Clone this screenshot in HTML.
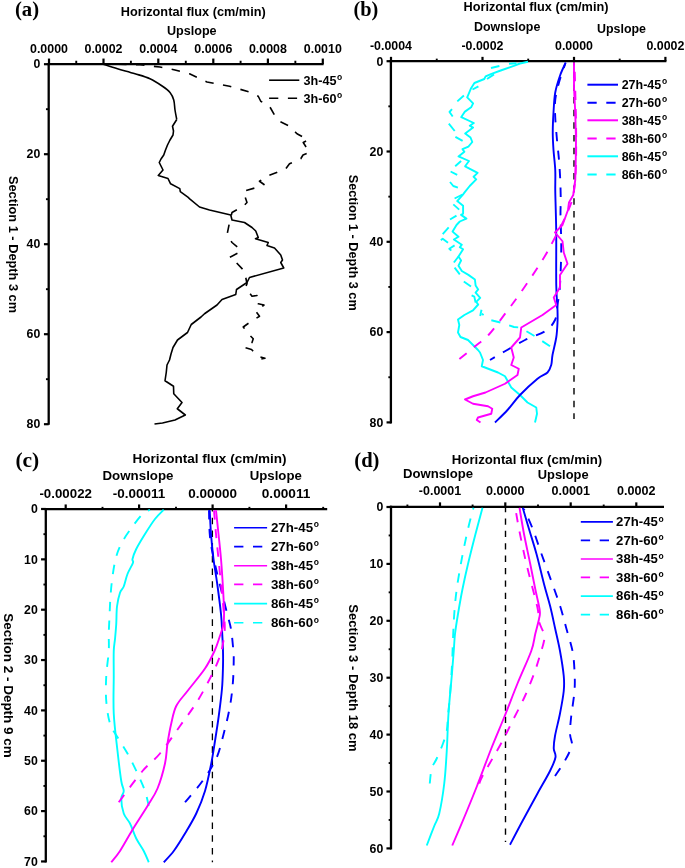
<!DOCTYPE html>
<html><head><meta charset="utf-8"><title>Horizontal flux</title>
<style>
html,body{margin:0;padding:0;background:#fff;}
body{width:685px;height:868px;overflow:hidden;font-family:"Liberation Sans", sans-serif;}
svg{display:block;}
text{fill:#000;}
</style></head><body>
<svg width="685" height="868" viewBox="0 0 685 868">
<defs><filter id="gs" x="0" y="0" width="685" height="868" filterUnits="userSpaceOnUse" color-interpolation-filters="sRGB"><feOffset dx="0" dy="0"/></filter></defs>
<rect width="685" height="868" fill="#fff"/>
<line x1="47.550000000000004" y1="64.1" x2="323.6" y2="64.1" stroke="#000" stroke-width="2.3"/>
<line x1="48.7" y1="62.949999999999996" x2="48.7" y2="424.8" stroke="#000" stroke-width="2.3"/>
<line x1="49" y1="58.55" x2="49" y2="64.1" stroke="#000" stroke-width="2.2"/>
<line x1="103.5" y1="58.55" x2="103.5" y2="64.1" stroke="#000" stroke-width="2.2"/>
<line x1="158.3" y1="58.55" x2="158.3" y2="64.1" stroke="#000" stroke-width="2.2"/>
<line x1="213.3" y1="58.55" x2="213.3" y2="64.1" stroke="#000" stroke-width="2.2"/>
<line x1="267.9" y1="58.55" x2="267.9" y2="64.1" stroke="#000" stroke-width="2.2"/>
<line x1="322.8" y1="58.55" x2="322.8" y2="64.1" stroke="#000" stroke-width="2.2"/>
<line x1="76.25" y1="60.74999999999999" x2="76.25" y2="64.1" stroke="#000" stroke-width="1.9"/>
<line x1="130.9" y1="60.74999999999999" x2="130.9" y2="64.1" stroke="#000" stroke-width="1.9"/>
<line x1="185.8" y1="60.74999999999999" x2="185.8" y2="64.1" stroke="#000" stroke-width="1.9"/>
<line x1="240.6" y1="60.74999999999999" x2="240.6" y2="64.1" stroke="#000" stroke-width="1.9"/>
<line x1="295.35" y1="60.74999999999999" x2="295.35" y2="64.1" stroke="#000" stroke-width="1.9"/>
<line x1="43.95" y1="64.2" x2="48.7" y2="64.2" stroke="#000" stroke-width="2.2"/>
<line x1="43.95" y1="154.2" x2="48.7" y2="154.2" stroke="#000" stroke-width="2.2"/>
<line x1="43.95" y1="244.2" x2="48.7" y2="244.2" stroke="#000" stroke-width="2.2"/>
<line x1="43.95" y1="334.2" x2="48.7" y2="334.2" stroke="#000" stroke-width="2.2"/>
<line x1="43.95" y1="424.2" x2="48.7" y2="424.2" stroke="#000" stroke-width="2.2"/>
<line x1="45.95" y1="109.2" x2="48.7" y2="109.2" stroke="#000" stroke-width="1.9"/>
<line x1="45.95" y1="199.2" x2="48.7" y2="199.2" stroke="#000" stroke-width="1.9"/>
<line x1="45.95" y1="289.2" x2="48.7" y2="289.2" stroke="#000" stroke-width="1.9"/>
<line x1="45.95" y1="379.2" x2="48.7" y2="379.2" stroke="#000" stroke-width="1.9"/>
<path d="M103.25,64.25 C105.62,65.00 112.21,67.17 117.50,68.75 C122.79,70.33 129.58,72.08 135.00,73.75 C140.42,75.42 145.42,76.67 150.00,78.75 C154.58,80.83 159.17,83.96 162.50,86.25 C165.83,88.54 168.12,90.21 170.00,92.50 C171.88,94.79 172.92,97.08 173.75,100.00 C174.58,102.92 174.50,106.75 175.00,110.00 C175.50,113.25 176.46,117.92 176.75,119.50" fill="none" stroke="#000" stroke-width="1.6" stroke-linejoin="round" stroke-linecap="butt"/>
<path d="M176.75,119.50 L172.50,126.25 L173.50,131.00 L173.00,135.00 L170.00,140.00 L167.50,145.00 L165.50,150.00 L163.75,155.00 L161.00,159.00 L159.25,162.50 L161.00,166.00 L163.00,170.00 L158.25,175.50 L168.00,178.50 L170.60,183.80 L179.80,188.60 L180.30,191.70 L188.20,197.40 L190.00,199.20 L199.50,207.00 L209.50,210.00 L230.75,215.00 L232.00,220.00 L244.50,222.50 L252.00,227.50 L255.75,231.00 L258.25,237.50 L255.50,238.70 L268.25,242.50 L267.00,245.50 L274.50,248.00 L280.75,255.00 L282.50,260.00 L280.75,262.50 L283.75,268.00 L249.50,277.50 L247.00,282.50 L236.50,289.50 L235.75,294.50 L222.00,299.50 L217.00,305.00 L204.50,313.75 L201.00,317.00 L191.25,324.50 L187.50,332.50 L177.50,340.00 L173.00,347.50 L171.00,354.00 L169.50,360.00 L167.00,365.00 L166.25,372.50 L165.00,380.75 L173.50,386.25 L173.75,393.75 L182.00,402.50 L177.30,408.75 L185.30,415.00 L175.00,420.00 L162.50,423.00 L154.50,424.00" fill="none" stroke="#000" stroke-width="1.6" stroke-linejoin="round" stroke-linecap="butt"/>
<path d="M118.00,64.30 L140.00,64.80 L160.00,67.00 L175.00,70.00 L189.50,73.75 L207.00,82.00 L229.50,86.25 L249.50,92.00 L258.25,96.25 L260.75,101.25 L269.50,106.25 L274.50,115.00 L279.50,121.25 L289.50,126.25 L297.00,133.75 L308.25,140.00 L303.25,142.50 L309.50,152.50 L303.00,155.00 L300.75,158.75 L289.50,163.75 L285.75,168.75 L267.00,176.25 L259.50,181.25 L264.00,184.50 L260.80,186.30 L243.25,191.25 L247.00,202.50 L243.25,206.25 L232.00,212.50 L229.50,222.50 L227.00,235.00 L232.00,242.50 L240.75,250.00 L239.00,252.50 L229.50,257.50 L235.75,262.00 L244.50,271.25 L247.00,283.75 L245.50,287.50 L252.00,296.25 L257.00,295.50 L254.50,298.80 L258.25,303.75 L264.00,305.00 L255.75,311.25 L259.50,316.25 L249.50,322.50 L243.25,327.00 L248.25,333.75 L253.25,338.75 L252.00,342.50 L244.50,347.50 L251.50,349.50 L258.25,356.25 L265.00,358.25 L252.00,360.75" fill="none" stroke="#000" stroke-width="1.6" stroke-linejoin="round" stroke-linecap="butt" stroke-dasharray="8.5 9.5"/>
<line x1="269.1" y1="80.2" x2="299.3" y2="80.2" stroke="#000" stroke-width="1.6"/>
<line x1="269.1" y1="98.2" x2="299.3" y2="98.2" stroke="#000" stroke-width="1.6" stroke-dasharray="9.2 9.6"/>
<line x1="389.75" y1="61.2" x2="666.4" y2="61.2" stroke="#000" stroke-width="2.3"/>
<line x1="390.9" y1="60.050000000000004" x2="390.9" y2="423.4" stroke="#000" stroke-width="2.3"/>
<line x1="391" y1="56.85" x2="391" y2="61.2" stroke="#000" stroke-width="2.2"/>
<line x1="482.5" y1="56.85" x2="482.5" y2="61.2" stroke="#000" stroke-width="2.2"/>
<line x1="574" y1="56.85" x2="574" y2="61.2" stroke="#000" stroke-width="2.2"/>
<line x1="665.4" y1="56.85" x2="665.4" y2="61.2" stroke="#000" stroke-width="2.2"/>
<line x1="436.75" y1="58.650000000000006" x2="436.75" y2="61.2" stroke="#000" stroke-width="1.9"/>
<line x1="528.2" y1="58.650000000000006" x2="528.2" y2="61.2" stroke="#000" stroke-width="1.9"/>
<line x1="619.7" y1="58.650000000000006" x2="619.7" y2="61.2" stroke="#000" stroke-width="1.9"/>
<line x1="386.55" y1="61.2" x2="390.9" y2="61.2" stroke="#000" stroke-width="2.2"/>
<line x1="386.55" y1="151.5" x2="390.9" y2="151.5" stroke="#000" stroke-width="2.2"/>
<line x1="386.55" y1="241.8" x2="390.9" y2="241.8" stroke="#000" stroke-width="2.2"/>
<line x1="386.55" y1="332.09999999999997" x2="390.9" y2="332.09999999999997" stroke="#000" stroke-width="2.2"/>
<line x1="386.55" y1="422.4" x2="390.9" y2="422.4" stroke="#000" stroke-width="2.2"/>
<line x1="388.35" y1="106.35" x2="390.9" y2="106.35" stroke="#000" stroke-width="1.9"/>
<line x1="388.35" y1="196.64999999999998" x2="390.9" y2="196.64999999999998" stroke="#000" stroke-width="1.9"/>
<line x1="388.35" y1="286.95" x2="390.9" y2="286.95" stroke="#000" stroke-width="1.9"/>
<line x1="388.35" y1="377.24999999999994" x2="390.9" y2="377.24999999999994" stroke="#000" stroke-width="1.9"/>
<line x1="574" y1="62" x2="574" y2="419" stroke="#000" stroke-width="1.4" stroke-dasharray="6.5 6.15" stroke-dashoffset="2.9"/>
<path d="M528.00,61.80 L520.00,63.50 L513.80,65.90 L500.70,70.50 L491.50,73.80 L485.60,76.40 L484.30,79.00 L474.40,83.00 L471.10,88.20 L467.20,97.40 L473.10,103.30 L471.10,107.30 L464.60,111.90 L461.30,117.10 L473.80,123.00 L469.80,125.70 L473.10,127.60 L465.20,133.60 L470.50,137.50 L472.30,142.00 L468.40,146.60 L462.50,149.20 L464.40,151.80 L458.50,156.40 L469.00,161.00 L465.10,166.30 L477.60,172.90 L473.60,176.80 L476.20,179.40 L469.70,186.00 L464.40,192.60 L462.50,195.20 L457.20,201.10 L463.10,205.70 L463.10,213.60 L461.10,214.90 L466.40,218.60 L459.80,221.50 L456.50,225.00 L452.60,231.60 L458.50,236.80 L453.90,239.50 L461.80,244.70 L459.80,247.30 L463.10,249.30 L458.50,256.50 L461.10,260.50 L458.50,265.70 L461.80,271.00 L468.40,274.90 L474.90,279.50 L475.60,285.40 L478.20,289.40 L475.60,292.70 L480.20,297.90 L476.20,301.90 L478.20,304.50 L473.00,310.40 L464.40,315.00 L458.00,319.50 L459.30,325.00 L458.00,332.50 L460.50,337.00 L468.00,340.00 L478.00,350.00 L480.00,352.50 L483.00,360.00 L481.75,366.25 L498.00,372.50 L505.00,376.25 L511.25,387.50 L520.00,395.00 L527.50,402.50 L536.25,407.50 L537.00,413.75 L535.00,422.50" fill="none" stroke="#00ffff" stroke-width="1.9" stroke-linejoin="round" stroke-linecap="butt"/>
<path d="M516.50,63.20 L509.00,63.80" fill="none" stroke="#00ffff" stroke-width="1.9" stroke-linejoin="round" stroke-linecap="butt"/>
<path d="M499.40,66.00 L491.00,68.00" fill="none" stroke="#00ffff" stroke-width="1.9" stroke-linejoin="round" stroke-linecap="butt"/>
<path d="M494.00,74.40 L487.00,79.00" fill="none" stroke="#00ffff" stroke-width="1.9" stroke-linejoin="round" stroke-linecap="butt"/>
<path d="M478.40,86.30 L472.50,89.50" fill="none" stroke="#00ffff" stroke-width="1.9" stroke-linejoin="round" stroke-linecap="butt"/>
<path d="M463.90,95.50 L457.30,101.40" fill="none" stroke="#00ffff" stroke-width="1.9" stroke-linejoin="round" stroke-linecap="butt"/>
<path d="M452.00,109.20 L449.50,112.00 L452.70,116.50" fill="none" stroke="#00ffff" stroke-width="1.9" stroke-linejoin="round" stroke-linecap="butt"/>
<path d="M448.80,123.70 L454.70,131.00" fill="none" stroke="#00ffff" stroke-width="1.9" stroke-linejoin="round" stroke-linecap="butt"/>
<path d="M455.40,136.80 L462.60,140.80" fill="none" stroke="#00ffff" stroke-width="1.9" stroke-linejoin="round" stroke-linecap="butt"/>
<path d="M461.10,161.00 L455.20,166.30" fill="none" stroke="#00ffff" stroke-width="1.9" stroke-linejoin="round" stroke-linecap="butt"/>
<path d="M450.60,171.50 L457.20,174.80" fill="none" stroke="#00ffff" stroke-width="1.9" stroke-linejoin="round" stroke-linecap="butt"/>
<path d="M450.00,182.00 L453.30,186.00 L457.90,187.60" fill="none" stroke="#00ffff" stroke-width="1.9" stroke-linejoin="round" stroke-linecap="butt"/>
<path d="M462.50,194.50 L454.60,198.50" fill="none" stroke="#00ffff" stroke-width="1.9" stroke-linejoin="round" stroke-linecap="butt"/>
<path d="M453.30,204.40 L459.20,209.60" fill="none" stroke="#00ffff" stroke-width="1.9" stroke-linejoin="round" stroke-linecap="butt"/>
<path d="M456.50,215.60 L450.00,219.50" fill="none" stroke="#00ffff" stroke-width="1.9" stroke-linejoin="round" stroke-linecap="butt"/>
<path d="M448.70,227.40 L442.70,234.20" fill="none" stroke="#00ffff" stroke-width="1.9" stroke-linejoin="round" stroke-linecap="butt"/>
<path d="M440.80,240.10 L442.70,238.80 L448.00,242.70" fill="none" stroke="#00ffff" stroke-width="1.9" stroke-linejoin="round" stroke-linecap="butt"/>
<path d="M454.60,245.40 L449.30,248.70 L451.30,250.60" fill="none" stroke="#00ffff" stroke-width="1.9" stroke-linejoin="round" stroke-linecap="butt"/>
<path d="M458.50,256.50 L453.90,262.50" fill="none" stroke="#00ffff" stroke-width="1.9" stroke-linejoin="round" stroke-linecap="butt"/>
<path d="M454.60,267.70 L459.80,274.30" fill="none" stroke="#00ffff" stroke-width="1.9" stroke-linejoin="round" stroke-linecap="butt"/>
<path d="M463.80,281.50 L471.00,286.50" fill="none" stroke="#00ffff" stroke-width="1.9" stroke-linejoin="round" stroke-linecap="butt"/>
<path d="M471.60,295.30 L474.30,296.60 L475.60,302.50" fill="none" stroke="#00ffff" stroke-width="1.9" stroke-linejoin="round" stroke-linecap="butt"/>
<path d="M481.50,309.80 L480.20,316.00" fill="none" stroke="#00ffff" stroke-width="1.9" stroke-linejoin="round" stroke-linecap="butt"/>
<path d="M550.00,346.25 L535.00,336.25 L520.00,327.50 L514.00,327.00 L500.50,322.50 L490.50,320.00 L481.75,313.75" fill="none" stroke="#00ffff" stroke-width="1.9" stroke-linejoin="round" stroke-linecap="butt" stroke-dasharray="9.3 9.3"/>
<path d="M565.75,62.50 C564.83,64.58 562.00,70.00 560.25,75.00 C558.50,80.00 556.38,86.25 555.25,92.50 C554.12,98.75 553.92,105.83 553.50,112.50 C553.08,119.17 552.75,126.25 552.75,132.50 C552.75,138.75 553.08,143.75 553.50,150.00 C553.92,156.25 554.96,163.33 555.25,170.00 C555.54,176.67 555.17,183.33 555.25,190.00 C555.33,196.67 555.58,202.50 555.75,210.00 C555.92,217.50 556.17,222.50 556.25,235.00 C556.33,247.50 556.04,272.50 556.25,285.00 C556.46,297.50 557.29,303.75 557.50,310.00 C557.71,316.25 557.71,317.92 557.50,322.50 C557.29,327.08 557.08,332.08 556.25,337.50 C555.42,342.92 553.33,350.42 552.50,355.00 C551.67,359.58 552.08,362.08 551.25,365.00 C550.42,367.92 549.79,370.21 547.50,372.50 C545.21,374.79 542.08,375.00 537.50,378.75 C532.92,382.50 525.00,389.79 520.00,395.00 C515.00,400.21 511.67,405.42 507.50,410.00 C503.33,414.58 497.08,420.42 495.00,422.50" fill="none" stroke="#0000ff" stroke-width="1.9" stroke-linejoin="round" stroke-linecap="butt"/>
<path d="M490.00,360.00 C492.50,358.54 499.17,354.58 505.00,351.25 C510.83,347.92 518.33,343.33 525.00,340.00 C531.67,336.67 540.00,334.58 545.00,331.25 C550.00,327.92 552.92,324.38 555.00,320.00 C557.08,315.62 556.67,310.83 557.50,305.00 C558.33,299.17 559.38,294.58 560.00,285.00 C560.62,275.42 561.17,259.17 561.25,247.50 C561.33,235.83 560.58,222.92 560.50,215.00 C560.42,207.08 560.79,205.83 560.75,200.00 C560.71,194.17 560.54,186.67 560.25,180.00 C559.96,173.33 559.54,166.67 559.00,160.00 C558.46,153.33 557.62,147.08 557.00,140.00 C556.38,132.92 555.54,124.17 555.25,117.50 C554.96,110.83 554.62,105.83 555.25,100.00 C555.88,94.17 557.33,88.54 559.00,82.50 C560.67,76.46 564.21,66.88 565.25,63.75" fill="none" stroke="#0000ff" stroke-width="1.9" stroke-linejoin="round" stroke-linecap="butt" stroke-dasharray="9.3 9.3" stroke-dashoffset="3.6"/>
<path d="M574.00,62.50 L574.00,87.50 L575.25,112.50 L576.00,140.00 L575.75,160.00 L575.25,180.00 L573.25,195.00 L569.00,202.50 L568.00,210.00 L562.50,225.00 L555.00,232.50 L562.50,241.25 L563.75,252.50 L567.50,263.75 L560.00,275.00 L560.00,287.50 L553.75,297.50 L556.25,305.00 L542.50,315.00 L521.25,327.50 L520.00,337.50 L511.25,347.50 L513.75,357.50 L511.25,365.00 L518.75,368.75 L517.50,375.00 L505.00,383.75 L485.50,392.50 L473.00,396.25 L465.00,399.50 L473.00,403.75 L488.00,406.25 L492.25,408.75 L491.25,413.75 L478.00,417.50 L476.80,420.00 L480.50,422.50" fill="none" stroke="#ff00ff" stroke-width="1.9" stroke-linejoin="round" stroke-linecap="butt"/>
<path d="M459.40,359.00 C461.97,356.92 469.95,350.50 474.80,346.50 C479.65,342.50 483.30,340.67 488.50,335.00 C493.70,329.33 500.33,320.00 506.00,312.50 C511.67,305.00 516.42,298.75 522.50,290.00 C528.58,281.25 537.08,268.75 542.50,260.00 C547.92,251.25 551.04,245.00 555.00,237.50 C558.96,230.00 563.29,221.67 566.25,215.00 C569.21,208.33 571.21,204.17 572.75,197.50 C574.29,190.83 574.92,184.58 575.50,175.00 C576.08,165.42 576.20,152.50 576.20,140.00 C576.20,127.50 575.78,112.83 575.50,100.00 C575.22,87.17 574.67,69.17 574.50,63.00" fill="none" stroke="#ff00ff" stroke-width="1.9" stroke-linejoin="round" stroke-linecap="butt" stroke-dasharray="9.3 9.3"/>
<line x1="587.4" y1="84.7" x2="618" y2="84.7" stroke="#0000ff" stroke-width="2"/>
<line x1="587.4" y1="102.7" x2="618" y2="102.7" stroke="#0000ff" stroke-width="2" stroke-dasharray="9.3 9.6"/>
<line x1="587.4" y1="120.3" x2="618" y2="120.3" stroke="#ff00ff" stroke-width="2"/>
<line x1="587.4" y1="138.4" x2="618" y2="138.4" stroke="#ff00ff" stroke-width="2" stroke-dasharray="9.3 9.6"/>
<line x1="587.4" y1="156.3" x2="618" y2="156.3" stroke="#00ffff" stroke-width="2"/>
<line x1="587.4" y1="174.4" x2="618" y2="174.4" stroke="#00ffff" stroke-width="2" stroke-dasharray="9.3 9.6"/>
<line x1="44.65" y1="509.1" x2="327.2" y2="509.1" stroke="#000" stroke-width="2.3"/>
<line x1="45.8" y1="507.95000000000005" x2="45.8" y2="862.4" stroke="#000" stroke-width="2.3"/>
<line x1="65.7" y1="504.45000000000005" x2="65.7" y2="509.1" stroke="#000" stroke-width="2.2"/>
<line x1="139.1" y1="504.45000000000005" x2="139.1" y2="509.1" stroke="#000" stroke-width="2.2"/>
<line x1="212.6" y1="504.45000000000005" x2="212.6" y2="509.1" stroke="#000" stroke-width="2.2"/>
<line x1="286.1" y1="504.45000000000005" x2="286.1" y2="509.1" stroke="#000" stroke-width="2.2"/>
<line x1="102.5" y1="506.85" x2="102.5" y2="509.1" stroke="#000" stroke-width="1.9"/>
<line x1="176" y1="506.85" x2="176" y2="509.1" stroke="#000" stroke-width="1.9"/>
<line x1="249.4" y1="506.85" x2="249.4" y2="509.1" stroke="#000" stroke-width="1.9"/>
<line x1="323.2" y1="506.85" x2="323.2" y2="509.1" stroke="#000" stroke-width="1.9"/>
<line x1="41.05" y1="509.0" x2="45.8" y2="509.0" stroke="#000" stroke-width="2.2"/>
<line x1="41.05" y1="559.35" x2="45.8" y2="559.35" stroke="#000" stroke-width="2.2"/>
<line x1="41.05" y1="609.7" x2="45.8" y2="609.7" stroke="#000" stroke-width="2.2"/>
<line x1="41.05" y1="660.05" x2="45.8" y2="660.05" stroke="#000" stroke-width="2.2"/>
<line x1="41.05" y1="710.4" x2="45.8" y2="710.4" stroke="#000" stroke-width="2.2"/>
<line x1="41.05" y1="760.75" x2="45.8" y2="760.75" stroke="#000" stroke-width="2.2"/>
<line x1="41.05" y1="811.1" x2="45.8" y2="811.1" stroke="#000" stroke-width="2.2"/>
<line x1="41.05" y1="861.45" x2="45.8" y2="861.45" stroke="#000" stroke-width="2.2"/>
<line x1="43.449999999999996" y1="534.175" x2="45.8" y2="534.175" stroke="#000" stroke-width="1.9"/>
<line x1="43.449999999999996" y1="584.525" x2="45.8" y2="584.525" stroke="#000" stroke-width="1.9"/>
<line x1="43.449999999999996" y1="634.875" x2="45.8" y2="634.875" stroke="#000" stroke-width="1.9"/>
<line x1="43.449999999999996" y1="685.225" x2="45.8" y2="685.225" stroke="#000" stroke-width="1.9"/>
<line x1="43.449999999999996" y1="735.575" x2="45.8" y2="735.575" stroke="#000" stroke-width="1.9"/>
<line x1="43.449999999999996" y1="785.925" x2="45.8" y2="785.925" stroke="#000" stroke-width="1.9"/>
<line x1="43.449999999999996" y1="836.2750000000001" x2="45.8" y2="836.2750000000001" stroke="#000" stroke-width="1.9"/>
<line x1="212.4" y1="510" x2="212.4" y2="862.2" stroke="#000" stroke-width="1.3" stroke-dasharray="6.6 6.1" stroke-dashoffset="5"/>
<path d="M163.75,509.75 C162.29,511.29 158.12,514.96 155.00,519.00 C151.88,523.04 148.12,529.00 145.00,534.00 C141.88,539.00 138.33,544.83 136.25,549.00 C134.17,553.17 133.04,556.70 132.50,559.00 C131.96,561.30 133.83,560.30 133.00,562.80 C132.17,565.30 129.04,570.05 127.50,574.00 C125.96,577.95 125.00,583.38 123.75,586.50 C122.50,589.62 121.12,589.42 120.00,592.75 C118.88,596.08 117.62,601.29 117.00,606.50 C116.38,611.71 116.58,618.58 116.25,624.00 C115.92,629.42 115.42,634.50 115.00,639.00 C114.58,643.50 113.96,644.83 113.75,651.00 C113.54,657.17 113.75,665.58 113.75,676.00 C113.75,686.42 113.12,701.00 113.75,713.50 C114.38,726.00 116.25,739.75 117.50,751.00 C118.75,762.25 120.21,774.33 121.25,781.00 C122.29,787.67 123.75,788.08 123.75,791.00 C123.75,793.92 121.25,794.75 121.25,798.50 C121.25,802.25 122.29,809.33 123.75,813.50 C125.21,817.67 127.92,819.33 130.00,823.50 C132.08,827.67 133.96,833.92 136.25,838.50 C138.54,843.08 141.67,847.04 143.75,851.00 C145.83,854.96 147.92,860.38 148.75,862.25" fill="none" stroke="#00ffff" stroke-width="1.9" stroke-linejoin="round" stroke-linecap="butt"/>
<path d="M148.75,806.00 C148.12,803.50 146.88,796.42 145.00,791.00 C143.12,785.58 140.42,779.75 137.50,773.50 C134.58,767.25 130.83,759.54 127.50,753.50 C124.17,747.46 120.42,742.25 117.50,737.25 C114.58,732.25 111.88,729.54 110.00,723.50 C108.12,717.46 106.88,708.92 106.25,701.00 C105.62,693.08 105.83,684.33 106.25,676.00 C106.67,667.67 108.33,658.00 108.75,651.00 C109.17,644.00 108.62,639.75 108.75,634.00 C108.88,628.25 109.21,622.75 109.50,616.50 C109.79,610.25 110.00,603.17 110.50,596.50 C111.00,589.83 111.54,583.17 112.50,576.50 C113.46,569.83 114.58,562.33 116.25,556.50 C117.92,550.67 119.79,546.50 122.50,541.50 C125.21,536.50 129.17,531.08 132.50,526.50 C135.83,521.92 139.58,516.79 142.50,514.00 C145.42,511.21 148.75,510.46 150.00,509.75" fill="none" stroke="#00ffff" stroke-width="1.9" stroke-linejoin="round" stroke-linecap="butt" stroke-dasharray="9.3 9.3"/>
<path d="M209.75,510.25 C209.96,514.21 210.38,525.88 211.00,534.00 C211.62,542.12 212.46,550.67 213.50,559.00 C214.54,567.33 216.00,574.83 217.25,584.00 C218.50,593.17 220.17,605.67 221.00,614.00 C221.83,622.33 221.92,627.83 222.25,634.00 C222.58,640.17 222.88,645.67 223.00,651.00 C223.12,656.33 223.17,659.75 223.00,666.00 C222.83,672.25 222.71,680.17 222.00,688.50 C221.29,696.83 219.92,707.25 218.75,716.00 C217.58,724.75 216.25,733.08 215.00,741.00 C213.75,748.92 212.92,755.17 211.25,763.50 C209.58,771.83 207.50,782.67 205.00,791.00 C202.50,799.33 199.58,806.42 196.25,813.50 C192.92,820.58 188.75,827.25 185.00,833.50 C181.25,839.75 177.29,846.21 173.75,851.00 C170.21,855.79 165.42,860.38 163.75,862.25" fill="none" stroke="#0000ff" stroke-width="1.9" stroke-linejoin="round" stroke-linecap="butt"/>
<path d="M185.00,802.25 C187.92,798.71 197.29,788.29 202.50,781.00 C207.71,773.71 212.71,766.42 216.25,758.50 C219.79,750.58 221.46,742.25 223.75,733.50 C226.04,724.75 228.46,714.75 230.00,706.00 C231.54,697.25 232.38,689.33 233.00,681.00 C233.62,672.67 233.75,661.75 233.75,656.00 C233.75,650.25 233.46,651.00 233.00,646.50 C232.54,642.00 231.96,634.42 231.00,629.00 C230.04,623.58 228.71,619.83 227.25,614.00 C225.79,608.17 223.92,600.67 222.25,594.00 C220.58,587.33 218.92,581.08 217.25,574.00 C215.58,566.92 213.50,558.17 212.25,551.50 C211.00,544.83 210.29,540.92 209.75,534.00 C209.21,527.08 209.12,514.00 209.00,510.00" fill="none" stroke="#0000ff" stroke-width="1.9" stroke-linejoin="round" stroke-linecap="butt" stroke-dasharray="9.3 9.3"/>
<path d="M216.00,510.25 C216.42,514.21 217.67,525.88 218.50,534.00 C219.33,542.12 220.29,550.67 221.00,559.00 C221.71,567.33 222.25,575.67 222.75,584.00 C223.25,592.33 223.88,602.33 224.00,609.00 C224.12,615.67 224.21,619.42 223.50,624.00 C222.79,628.58 221.25,632.00 219.75,636.50 C218.25,641.00 216.96,645.67 214.50,651.00 C212.04,656.33 209.50,661.83 205.00,668.50 C200.50,675.17 192.29,684.75 187.50,691.00 C182.71,697.25 178.96,700.58 176.25,706.00 C173.54,711.42 172.71,717.25 171.25,723.50 C169.79,729.75 168.54,736.83 167.50,743.50 C166.46,750.17 166.67,756.00 165.00,763.50 C163.33,771.00 160.42,781.42 157.50,788.50 C154.58,795.58 151.67,799.12 147.50,806.00 C143.33,812.88 137.08,822.25 132.50,829.75 C127.92,837.25 123.54,845.58 120.00,851.00 C116.46,856.42 112.71,860.38 111.25,862.25" fill="none" stroke="#ff00ff" stroke-width="1.9" stroke-linejoin="round" stroke-linecap="butt"/>
<path d="M118.75,802.25 C122.71,797.04 135.62,779.12 142.50,771.00 C149.38,762.88 153.75,761.00 160.00,753.50 C166.25,746.00 173.75,734.75 180.00,726.00 C186.25,717.25 192.08,709.75 197.50,701.00 C202.92,692.25 208.75,681.00 212.50,673.50 C216.25,666.00 218.33,660.58 220.00,656.00 C221.67,651.42 221.71,650.50 222.50,646.00 C223.29,641.50 224.58,635.17 224.75,629.00 C224.92,622.83 224.12,616.50 223.50,609.00 C222.88,601.50 221.83,592.33 221.00,584.00 C220.17,575.67 219.33,567.33 218.50,559.00 C217.67,550.67 216.75,542.17 216.00,534.00 C215.25,525.83 214.33,514.00 214.00,510.00" fill="none" stroke="#ff00ff" stroke-width="1.9" stroke-linejoin="round" stroke-linecap="butt" stroke-dasharray="9.3 9.3"/>
<line x1="234.1" y1="527.7" x2="267.1" y2="527.7" stroke="#0000ff" stroke-width="1.6"/>
<line x1="234.1" y1="546.6" x2="267.1" y2="546.6" stroke="#0000ff" stroke-width="1.6" stroke-dasharray="9.3 9.6"/>
<line x1="234.1" y1="565.7" x2="267.1" y2="565.7" stroke="#ff00ff" stroke-width="1.6"/>
<line x1="234.1" y1="584.4" x2="267.1" y2="584.4" stroke="#ff00ff" stroke-width="1.6" stroke-dasharray="9.3 9.6"/>
<line x1="234.1" y1="603.6" x2="267.1" y2="603.6" stroke="#00ffff" stroke-width="1.6"/>
<line x1="234.1" y1="622.8" x2="267.1" y2="622.8" stroke="#00ffff" stroke-width="1.6" stroke-dasharray="9.3 9.6"/>
<line x1="389.85" y1="506.9" x2="664" y2="506.9" stroke="#000" stroke-width="2.3"/>
<line x1="391" y1="505.75" x2="391" y2="849.6" stroke="#000" stroke-width="2.3"/>
<line x1="440" y1="502.35" x2="440" y2="506.9" stroke="#000" stroke-width="2.2"/>
<line x1="505.3" y1="502.35" x2="505.3" y2="506.9" stroke="#000" stroke-width="2.2"/>
<line x1="570.7" y1="502.35" x2="570.7" y2="506.9" stroke="#000" stroke-width="2.2"/>
<line x1="636.3" y1="502.35" x2="636.3" y2="506.9" stroke="#000" stroke-width="2.2"/>
<line x1="407.4" y1="504.55" x2="407.4" y2="506.9" stroke="#000" stroke-width="1.9"/>
<line x1="472.6" y1="504.55" x2="472.6" y2="506.9" stroke="#000" stroke-width="1.9"/>
<line x1="538" y1="504.55" x2="538" y2="506.9" stroke="#000" stroke-width="1.9"/>
<line x1="603.7" y1="504.55" x2="603.7" y2="506.9" stroke="#000" stroke-width="1.9"/>
<line x1="386.45000000000005" y1="507.0" x2="391" y2="507.0" stroke="#000" stroke-width="2.2"/>
<line x1="386.45000000000005" y1="563.9" x2="391" y2="563.9" stroke="#000" stroke-width="2.2"/>
<line x1="386.45000000000005" y1="620.8" x2="391" y2="620.8" stroke="#000" stroke-width="2.2"/>
<line x1="386.45000000000005" y1="677.7" x2="391" y2="677.7" stroke="#000" stroke-width="2.2"/>
<line x1="386.45000000000005" y1="734.6" x2="391" y2="734.6" stroke="#000" stroke-width="2.2"/>
<line x1="386.45000000000005" y1="791.5" x2="391" y2="791.5" stroke="#000" stroke-width="2.2"/>
<line x1="386.45000000000005" y1="848.4000000000001" x2="391" y2="848.4000000000001" stroke="#000" stroke-width="2.2"/>
<line x1="388.65000000000003" y1="535.45" x2="391" y2="535.45" stroke="#000" stroke-width="1.9"/>
<line x1="388.65000000000003" y1="592.35" x2="391" y2="592.35" stroke="#000" stroke-width="1.9"/>
<line x1="388.65000000000003" y1="649.25" x2="391" y2="649.25" stroke="#000" stroke-width="1.9"/>
<line x1="388.65000000000003" y1="706.15" x2="391" y2="706.15" stroke="#000" stroke-width="1.9"/>
<line x1="388.65000000000003" y1="763.05" x2="391" y2="763.05" stroke="#000" stroke-width="1.9"/>
<line x1="388.65000000000003" y1="819.95" x2="391" y2="819.95" stroke="#000" stroke-width="1.9"/>
<line x1="505.5" y1="508" x2="505.5" y2="842" stroke="#000" stroke-width="1.4" stroke-dasharray="6.3 6.1" stroke-dashoffset="2"/>
<path d="M482.50,507.75 C481.33,512.12 477.92,524.62 475.50,534.00 C473.08,543.38 470.17,554.83 468.00,564.00 C465.83,573.17 464.17,580.67 462.50,589.00 C460.83,597.33 459.25,606.50 458.00,614.00 C456.75,621.50 455.71,627.83 455.00,634.00 C454.29,640.17 454.29,644.00 453.75,651.00 C453.21,658.00 452.62,665.58 451.75,676.00 C450.88,686.42 449.33,701.00 448.50,713.50 C447.67,726.00 447.46,739.33 446.75,751.00 C446.04,762.67 445.50,773.08 444.25,783.50 C443.00,793.92 440.92,806.42 439.25,813.50 C437.58,820.58 436.33,820.67 434.25,826.00 C432.17,831.33 428.00,842.25 426.75,845.50" fill="none" stroke="#00ffff" stroke-width="1.9" stroke-linejoin="round" stroke-linecap="butt"/>
<path d="M429.75,783.50 C430.08,781.00 430.58,772.67 431.75,768.50 C432.92,764.33 434.88,762.67 436.75,758.50 C438.62,754.33 441.33,748.08 443.00,743.50 C444.67,738.92 445.92,735.58 446.75,731.00 C447.58,726.42 447.46,722.00 448.00,716.00 C448.54,710.00 449.33,703.50 450.00,695.00 C450.67,686.50 451.50,674.33 452.00,665.00 C452.50,655.67 452.62,647.50 453.00,639.00 C453.38,630.50 453.62,622.33 454.25,614.00 C454.88,605.67 455.50,598.17 456.75,589.00 C458.00,579.83 459.88,569.00 461.75,559.00 C463.62,549.00 466.04,537.54 468.00,529.00 C469.96,520.46 472.58,511.29 473.50,507.75" fill="none" stroke="#00ffff" stroke-width="1.9" stroke-linejoin="round" stroke-linecap="butt" stroke-dasharray="9.3 9.3"/>
<path d="M522.75,507.75 C523.79,511.29 526.71,521.29 529.00,529.00 C531.29,536.71 534.00,544.83 536.50,554.00 C539.00,563.17 541.71,575.25 544.00,584.00 C546.29,592.75 548.38,599.00 550.25,606.50 C552.12,614.00 553.62,621.58 555.25,629.00 C556.88,636.42 558.58,643.17 560.00,651.00 C561.42,658.83 563.12,669.33 563.75,676.00 C564.38,682.67 564.38,684.75 563.75,691.00 C563.12,697.25 561.46,706.00 560.00,713.50 C558.54,721.00 556.04,730.17 555.00,736.00 C553.96,741.83 553.67,744.96 553.75,748.50 C553.83,752.04 556.12,753.50 555.50,757.25 C554.88,761.00 553.00,764.96 550.00,771.00 C547.00,777.04 542.08,785.17 537.50,793.50 C532.92,801.83 527.08,812.46 522.50,821.00 C517.92,829.54 512.08,840.79 510.00,844.75" fill="none" stroke="#0000ff" stroke-width="1.9" stroke-linejoin="round" stroke-linecap="butt"/>
<path d="M555.00,776.00 C556.25,774.12 560.21,768.50 562.50,764.75 C564.79,761.00 567.17,756.83 568.75,753.50 C570.33,750.17 571.79,748.08 572.00,744.75 C572.21,741.42 570.12,738.29 570.00,733.50 C569.88,728.71 570.50,723.08 571.25,716.00 C572.00,708.92 573.96,698.50 574.50,691.00 C575.04,683.50 574.83,677.67 574.50,671.00 C574.17,664.33 573.83,658.00 572.50,651.00 C571.17,644.00 568.54,636.42 566.50,629.00 C564.46,621.58 562.75,614.42 560.25,606.50 C557.75,598.58 554.62,590.25 551.50,581.50 C548.38,572.75 544.62,562.75 541.50,554.00 C538.38,545.25 535.67,536.50 532.75,529.00 C529.83,521.50 525.46,512.33 524.00,509.00" fill="none" stroke="#0000ff" stroke-width="1.9" stroke-linejoin="round" stroke-linecap="butt" stroke-dasharray="9.3 9.3"/>
<path d="M519.50,507.75 C520.25,512.12 522.21,524.62 524.00,534.00 C525.79,543.38 528.38,554.83 530.25,564.00 C532.12,573.17 533.67,581.29 535.25,589.00 C536.83,596.71 539.12,605.25 539.75,610.25 C540.38,615.25 539.75,615.04 539.00,619.00 C538.25,622.96 536.54,628.67 535.25,634.00 C533.96,639.33 534.21,642.75 531.25,651.00 C528.29,659.25 521.92,672.67 517.50,683.50 C513.08,694.33 509.07,705.17 504.70,716.00 C500.33,726.83 495.92,736.83 491.30,748.50 C486.68,760.17 481.42,774.75 477.00,786.00 C472.58,797.25 468.93,806.08 464.80,816.00 C460.68,825.92 454.34,840.58 452.25,845.50" fill="none" stroke="#ff00ff" stroke-width="1.9" stroke-linejoin="round" stroke-linecap="butt"/>
<path d="M479.25,783.50 C479.79,782.25 480.29,780.17 482.50,776.00 C484.71,771.83 489.17,764.33 492.50,758.50 C495.83,752.67 499.17,747.25 502.50,741.00 C505.83,734.75 508.75,728.50 512.50,721.00 C516.25,713.50 521.25,704.33 525.00,696.00 C528.75,687.67 532.29,678.50 535.00,671.00 C537.71,663.50 539.75,656.00 541.25,651.00 C542.75,646.00 543.54,643.83 544.00,641.00 C544.46,638.17 544.83,637.25 544.00,634.00 C543.17,630.75 540.04,625.67 539.00,621.50 C537.96,617.33 539.00,615.25 537.75,609.00 C536.50,602.75 533.58,592.33 531.50,584.00 C529.42,575.67 527.33,568.17 525.25,559.00 C523.17,549.83 520.67,537.54 519.00,529.00 C517.33,520.46 515.88,511.29 515.25,507.75" fill="none" stroke="#ff00ff" stroke-width="1.9" stroke-linejoin="round" stroke-linecap="butt" stroke-dasharray="9.3 9.3"/>
<line x1="580.8" y1="521.8" x2="612.9" y2="521.8" stroke="#0000ff" stroke-width="1.7"/>
<line x1="580.8" y1="540.3" x2="612.9" y2="540.3" stroke="#0000ff" stroke-width="1.7" stroke-dasharray="9.3 9.6"/>
<line x1="580.8" y1="559" x2="612.9" y2="559" stroke="#ff00ff" stroke-width="1.7"/>
<line x1="580.8" y1="577.4" x2="612.9" y2="577.4" stroke="#ff00ff" stroke-width="1.7" stroke-dasharray="9.3 9.6"/>
<line x1="580.8" y1="596.1" x2="612.9" y2="596.1" stroke="#00ffff" stroke-width="1.7"/>
<line x1="580.8" y1="614.7" x2="612.9" y2="614.7" stroke="#00ffff" stroke-width="1.7" stroke-dasharray="9.3 9.6"/>
<g filter="url(#gs)">
<text x="14.9" y="15.5" font-family='"Liberation Serif", serif' font-size="20.3" font-weight="bold" text-anchor="start" textLength="24.2" lengthAdjust="spacingAndGlyphs">(a)</text>
<text x="120.8" y="15.8" font-family='"Liberation Sans", sans-serif' font-size="12.3" font-weight="bold" text-anchor="start" textLength="144.9" lengthAdjust="spacingAndGlyphs">Horizontal flux (cm/min)</text>
<text x="166.9" y="35" font-family='"Liberation Sans", sans-serif' font-size="12.3" font-weight="bold" text-anchor="start" textLength="49.7" lengthAdjust="spacingAndGlyphs">Upslope</text>
<text x="49" y="52.7" font-family='"Liberation Sans", sans-serif' font-size="12.3" font-weight="bold" text-anchor="middle" textLength="38" lengthAdjust="spacingAndGlyphs">0.0000</text>
<text x="103.5" y="52.7" font-family='"Liberation Sans", sans-serif' font-size="12.3" font-weight="bold" text-anchor="middle" textLength="38" lengthAdjust="spacingAndGlyphs">0.0002</text>
<text x="158.3" y="52.7" font-family='"Liberation Sans", sans-serif' font-size="12.3" font-weight="bold" text-anchor="middle" textLength="38" lengthAdjust="spacingAndGlyphs">0.0004</text>
<text x="213.3" y="52.7" font-family='"Liberation Sans", sans-serif' font-size="12.3" font-weight="bold" text-anchor="middle" textLength="38" lengthAdjust="spacingAndGlyphs">0.0006</text>
<text x="267.9" y="52.7" font-family='"Liberation Sans", sans-serif' font-size="12.3" font-weight="bold" text-anchor="middle" textLength="38" lengthAdjust="spacingAndGlyphs">0.0008</text>
<text x="322.8" y="52.7" font-family='"Liberation Sans", sans-serif' font-size="12.3" font-weight="bold" text-anchor="middle" textLength="38" lengthAdjust="spacingAndGlyphs">0.0010</text>
<text x="40.3" y="68.4" font-family='"Liberation Sans", sans-serif' font-size="12.3" font-weight="bold" text-anchor="end">0</text>
<text x="40.3" y="158.39999999999998" font-family='"Liberation Sans", sans-serif' font-size="12.3" font-weight="bold" text-anchor="end">20</text>
<text x="40.3" y="248.39999999999998" font-family='"Liberation Sans", sans-serif' font-size="12.3" font-weight="bold" text-anchor="end">40</text>
<text x="40.3" y="338.4" font-family='"Liberation Sans", sans-serif' font-size="12.3" font-weight="bold" text-anchor="end">60</text>
<text x="40.3" y="428.4" font-family='"Liberation Sans", sans-serif' font-size="12.3" font-weight="bold" text-anchor="end">80</text>
<text transform="translate(9.2,175.9) rotate(90)" font-family='"Liberation Sans", sans-serif' font-size="12.3" font-weight="bold" text-anchor="start" textLength="137.2" lengthAdjust="spacingAndGlyphs">Section 1 - Depth 3 cm</text>
<text x="303.6" y="84.7" font-family='"Liberation Sans", sans-serif' font-size="12.3" font-weight="bold" textLength="33" lengthAdjust="spacingAndGlyphs">3h-45</text>
<text x="336.9" y="80.10" font-family='"Liberation Sans", sans-serif' font-size="9.6" font-weight="bold" textLength="5.2" lengthAdjust="spacingAndGlyphs">o</text>
<text x="303.6" y="102.7" font-family='"Liberation Sans", sans-serif' font-size="12.3" font-weight="bold" textLength="33" lengthAdjust="spacingAndGlyphs">3h-60</text>
<text x="336.9" y="98.10" font-family='"Liberation Sans", sans-serif' font-size="9.6" font-weight="bold" textLength="5.2" lengthAdjust="spacingAndGlyphs">o</text>
<text x="353.5" y="15.5" font-family='"Liberation Serif", serif' font-size="20.3" font-weight="bold" text-anchor="start" textLength="24.9" lengthAdjust="spacingAndGlyphs">(b)</text>
<text x="463.5" y="11.3" font-family='"Liberation Sans", sans-serif' font-size="12.3" font-weight="bold" text-anchor="start" textLength="145" lengthAdjust="spacingAndGlyphs">Horizontal flux (cm/min)</text>
<text x="474" y="30.6" font-family='"Liberation Sans", sans-serif' font-size="12.3" font-weight="bold" text-anchor="start" textLength="66.3" lengthAdjust="spacingAndGlyphs">Downslope</text>
<text x="597" y="33.2" font-family='"Liberation Sans", sans-serif' font-size="12.3" font-weight="bold" text-anchor="start" textLength="49" lengthAdjust="spacingAndGlyphs">Upslope</text>
<text x="391" y="50.3" font-family='"Liberation Sans", sans-serif' font-size="12.3" font-weight="bold" text-anchor="middle" textLength="42" lengthAdjust="spacingAndGlyphs">-0.0004</text>
<text x="482.5" y="50.3" font-family='"Liberation Sans", sans-serif' font-size="12.3" font-weight="bold" text-anchor="middle" textLength="42" lengthAdjust="spacingAndGlyphs">-0.0002</text>
<text x="574" y="50.3" font-family='"Liberation Sans", sans-serif' font-size="12.3" font-weight="bold" text-anchor="middle" textLength="38" lengthAdjust="spacingAndGlyphs">0.0000</text>
<text x="665.4" y="50.3" font-family='"Liberation Sans", sans-serif' font-size="12.3" font-weight="bold" text-anchor="middle" textLength="38" lengthAdjust="spacingAndGlyphs">0.0002</text>
<text x="383.3" y="65.5" font-family='"Liberation Sans", sans-serif' font-size="12.3" font-weight="bold" text-anchor="end">0</text>
<text x="383.3" y="155.8" font-family='"Liberation Sans", sans-serif' font-size="12.3" font-weight="bold" text-anchor="end">20</text>
<text x="383.3" y="246.10000000000002" font-family='"Liberation Sans", sans-serif' font-size="12.3" font-weight="bold" text-anchor="end">40</text>
<text x="383.3" y="336.4" font-family='"Liberation Sans", sans-serif' font-size="12.3" font-weight="bold" text-anchor="end">60</text>
<text x="383.3" y="426.7" font-family='"Liberation Sans", sans-serif' font-size="12.3" font-weight="bold" text-anchor="end">80</text>
<text transform="translate(349.4,174.7) rotate(90)" font-family='"Liberation Sans", sans-serif' font-size="12.3" font-weight="bold" text-anchor="start" textLength="136" lengthAdjust="spacingAndGlyphs">Section 1 - Depth 3 cm</text>
<text x="621.7" y="89.0" font-family='"Liberation Sans", sans-serif' font-size="12.3" font-weight="bold" textLength="39.5" lengthAdjust="spacingAndGlyphs">27h-45</text>
<text x="662" y="84.40" font-family='"Liberation Sans", sans-serif' font-size="9.6" font-weight="bold" textLength="5.2" lengthAdjust="spacingAndGlyphs">o</text>
<text x="621.7" y="107.0" font-family='"Liberation Sans", sans-serif' font-size="12.3" font-weight="bold" textLength="39.5" lengthAdjust="spacingAndGlyphs">27h-60</text>
<text x="662" y="102.40" font-family='"Liberation Sans", sans-serif' font-size="9.6" font-weight="bold" textLength="5.2" lengthAdjust="spacingAndGlyphs">o</text>
<text x="621.7" y="124.6" font-family='"Liberation Sans", sans-serif' font-size="12.3" font-weight="bold" textLength="39.5" lengthAdjust="spacingAndGlyphs">38h-45</text>
<text x="662" y="120.00" font-family='"Liberation Sans", sans-serif' font-size="9.6" font-weight="bold" textLength="5.2" lengthAdjust="spacingAndGlyphs">o</text>
<text x="621.7" y="142.70000000000002" font-family='"Liberation Sans", sans-serif' font-size="12.3" font-weight="bold" textLength="39.5" lengthAdjust="spacingAndGlyphs">38h-60</text>
<text x="662" y="138.10" font-family='"Liberation Sans", sans-serif' font-size="9.6" font-weight="bold" textLength="5.2" lengthAdjust="spacingAndGlyphs">o</text>
<text x="621.7" y="160.60000000000002" font-family='"Liberation Sans", sans-serif' font-size="12.3" font-weight="bold" textLength="39.5" lengthAdjust="spacingAndGlyphs">86h-45</text>
<text x="662" y="156.00" font-family='"Liberation Sans", sans-serif' font-size="9.6" font-weight="bold" textLength="5.2" lengthAdjust="spacingAndGlyphs">o</text>
<text x="621.7" y="178.70000000000002" font-family='"Liberation Sans", sans-serif' font-size="12.3" font-weight="bold" textLength="39.5" lengthAdjust="spacingAndGlyphs">86h-60</text>
<text x="662" y="174.10" font-family='"Liberation Sans", sans-serif' font-size="9.6" font-weight="bold" textLength="5.2" lengthAdjust="spacingAndGlyphs">o</text>
<text x="15.4" y="466.6" font-family='"Liberation Serif", serif' font-size="20.5" font-weight="bold" text-anchor="start" textLength="23.9" lengthAdjust="spacingAndGlyphs">(c)</text>
<text x="132.5" y="462.8" font-family='"Liberation Sans", sans-serif' font-size="12.3" font-weight="bold" text-anchor="start" textLength="154" lengthAdjust="spacingAndGlyphs">Horizontal flux (cm/min)</text>
<text x="102.5" y="479.8" font-family='"Liberation Sans", sans-serif' font-size="12.3" font-weight="bold" text-anchor="start" textLength="71" lengthAdjust="spacingAndGlyphs">Downslope</text>
<text x="249.8" y="480.2" font-family='"Liberation Sans", sans-serif' font-size="12.3" font-weight="bold" text-anchor="start" textLength="52" lengthAdjust="spacingAndGlyphs">Upslope</text>
<text x="65.7" y="497.8" font-family='"Liberation Sans", sans-serif' font-size="12.3" font-weight="bold" text-anchor="middle" textLength="52.5" lengthAdjust="spacingAndGlyphs">-0.00022</text>
<text x="139.1" y="497.8" font-family='"Liberation Sans", sans-serif' font-size="12.3" font-weight="bold" text-anchor="middle" textLength="52.5" lengthAdjust="spacingAndGlyphs">-0.00011</text>
<text x="212.6" y="497.8" font-family='"Liberation Sans", sans-serif' font-size="12.3" font-weight="bold" text-anchor="middle" textLength="48.7" lengthAdjust="spacingAndGlyphs">0.00000</text>
<text x="286.1" y="497.8" font-family='"Liberation Sans", sans-serif' font-size="12.3" font-weight="bold" text-anchor="middle" textLength="48.7" lengthAdjust="spacingAndGlyphs">0.00011</text>
<text x="37.8" y="513.3" font-family='"Liberation Sans", sans-serif' font-size="12.3" font-weight="bold" text-anchor="end">0</text>
<text x="37.8" y="563.65" font-family='"Liberation Sans", sans-serif' font-size="12.3" font-weight="bold" text-anchor="end">10</text>
<text x="37.8" y="614.0" font-family='"Liberation Sans", sans-serif' font-size="12.3" font-weight="bold" text-anchor="end">20</text>
<text x="37.8" y="664.3499999999999" font-family='"Liberation Sans", sans-serif' font-size="12.3" font-weight="bold" text-anchor="end">30</text>
<text x="37.8" y="714.6999999999999" font-family='"Liberation Sans", sans-serif' font-size="12.3" font-weight="bold" text-anchor="end">40</text>
<text x="37.8" y="765.05" font-family='"Liberation Sans", sans-serif' font-size="12.3" font-weight="bold" text-anchor="end">50</text>
<text x="37.8" y="815.4" font-family='"Liberation Sans", sans-serif' font-size="12.3" font-weight="bold" text-anchor="end">60</text>
<text x="37.8" y="865.75" font-family='"Liberation Sans", sans-serif' font-size="12.3" font-weight="bold" text-anchor="end">70</text>
<text transform="translate(3.8,613.3) rotate(90)" font-family='"Liberation Sans", sans-serif' font-size="12.3" font-weight="bold" text-anchor="start" textLength="144.5" lengthAdjust="spacingAndGlyphs">Section 2 - Depth 9 cm</text>
<text x="270.9" y="532.0" font-family='"Liberation Sans", sans-serif' font-size="12.3" font-weight="bold" textLength="42.2" lengthAdjust="spacingAndGlyphs">27h-45</text>
<text x="313.8" y="527.40" font-family='"Liberation Sans", sans-serif' font-size="9.6" font-weight="bold" textLength="5.2" lengthAdjust="spacingAndGlyphs">o</text>
<text x="270.9" y="550.9" font-family='"Liberation Sans", sans-serif' font-size="12.3" font-weight="bold" textLength="42.2" lengthAdjust="spacingAndGlyphs">27h-60</text>
<text x="313.8" y="546.30" font-family='"Liberation Sans", sans-serif' font-size="9.6" font-weight="bold" textLength="5.2" lengthAdjust="spacingAndGlyphs">o</text>
<text x="270.9" y="570.0" font-family='"Liberation Sans", sans-serif' font-size="12.3" font-weight="bold" textLength="42.2" lengthAdjust="spacingAndGlyphs">38h-45</text>
<text x="313.8" y="565.40" font-family='"Liberation Sans", sans-serif' font-size="9.6" font-weight="bold" textLength="5.2" lengthAdjust="spacingAndGlyphs">o</text>
<text x="270.9" y="588.6999999999999" font-family='"Liberation Sans", sans-serif' font-size="12.3" font-weight="bold" textLength="42.2" lengthAdjust="spacingAndGlyphs">38h-60</text>
<text x="313.8" y="584.10" font-family='"Liberation Sans", sans-serif' font-size="9.6" font-weight="bold" textLength="5.2" lengthAdjust="spacingAndGlyphs">o</text>
<text x="270.9" y="607.9" font-family='"Liberation Sans", sans-serif' font-size="12.3" font-weight="bold" textLength="42.2" lengthAdjust="spacingAndGlyphs">86h-45</text>
<text x="313.8" y="603.30" font-family='"Liberation Sans", sans-serif' font-size="9.6" font-weight="bold" textLength="5.2" lengthAdjust="spacingAndGlyphs">o</text>
<text x="270.9" y="627.0999999999999" font-family='"Liberation Sans", sans-serif' font-size="12.3" font-weight="bold" textLength="42.2" lengthAdjust="spacingAndGlyphs">86h-60</text>
<text x="313.8" y="622.50" font-family='"Liberation Sans", sans-serif' font-size="9.6" font-weight="bold" textLength="5.2" lengthAdjust="spacingAndGlyphs">o</text>
<text x="354.3" y="466.6" font-family='"Liberation Serif", serif' font-size="20.5" font-weight="bold" text-anchor="start" textLength="25.2" lengthAdjust="spacingAndGlyphs">(d)</text>
<text x="451.8" y="463.5" font-family='"Liberation Sans", sans-serif' font-size="12.3" font-weight="bold" text-anchor="start" textLength="150.3" lengthAdjust="spacingAndGlyphs">Horizontal flux (cm/min)</text>
<text x="403" y="477.8" font-family='"Liberation Sans", sans-serif' font-size="12.3" font-weight="bold" text-anchor="start" textLength="70" lengthAdjust="spacingAndGlyphs">Downslope</text>
<text x="537.8" y="479" font-family='"Liberation Sans", sans-serif' font-size="12.3" font-weight="bold" text-anchor="start" textLength="50.8" lengthAdjust="spacingAndGlyphs">Upslope</text>
<text x="440" y="495.3" font-family='"Liberation Sans", sans-serif' font-size="12.3" font-weight="bold" text-anchor="middle" textLength="42.3" lengthAdjust="spacingAndGlyphs">-0.0001</text>
<text x="505.3" y="495.3" font-family='"Liberation Sans", sans-serif' font-size="12.3" font-weight="bold" text-anchor="middle" textLength="38.5" lengthAdjust="spacingAndGlyphs">0.0000</text>
<text x="570.7" y="495.3" font-family='"Liberation Sans", sans-serif' font-size="12.3" font-weight="bold" text-anchor="middle" textLength="38.5" lengthAdjust="spacingAndGlyphs">0.0001</text>
<text x="636.3" y="495.3" font-family='"Liberation Sans", sans-serif' font-size="12.3" font-weight="bold" text-anchor="middle" textLength="38.5" lengthAdjust="spacingAndGlyphs">0.0002</text>
<text x="383.3" y="511.3" font-family='"Liberation Sans", sans-serif' font-size="12.3" font-weight="bold" text-anchor="end">0</text>
<text x="383.3" y="568.1999999999999" font-family='"Liberation Sans", sans-serif' font-size="12.3" font-weight="bold" text-anchor="end">10</text>
<text x="383.3" y="625.0999999999999" font-family='"Liberation Sans", sans-serif' font-size="12.3" font-weight="bold" text-anchor="end">20</text>
<text x="383.3" y="682.0" font-family='"Liberation Sans", sans-serif' font-size="12.3" font-weight="bold" text-anchor="end">30</text>
<text x="383.3" y="738.9" font-family='"Liberation Sans", sans-serif' font-size="12.3" font-weight="bold" text-anchor="end">40</text>
<text x="383.3" y="795.8" font-family='"Liberation Sans", sans-serif' font-size="12.3" font-weight="bold" text-anchor="end">50</text>
<text x="383.3" y="852.7" font-family='"Liberation Sans", sans-serif' font-size="12.3" font-weight="bold" text-anchor="end">60</text>
<text transform="translate(349.4,604.2) rotate(90)" font-family='"Liberation Sans", sans-serif' font-size="12.3" font-weight="bold" text-anchor="start" textLength="147.5" lengthAdjust="spacingAndGlyphs">Section 3 - Depth 18 cm</text>
<text x="616.1" y="526.0999999999999" font-family='"Liberation Sans", sans-serif' font-size="12.3" font-weight="bold" textLength="41.7" lengthAdjust="spacingAndGlyphs">27h-45</text>
<text x="658.5" y="521.50" font-family='"Liberation Sans", sans-serif' font-size="9.6" font-weight="bold" textLength="5.2" lengthAdjust="spacingAndGlyphs">o</text>
<text x="616.1" y="544.5999999999999" font-family='"Liberation Sans", sans-serif' font-size="12.3" font-weight="bold" textLength="41.7" lengthAdjust="spacingAndGlyphs">27h-60</text>
<text x="658.5" y="540.00" font-family='"Liberation Sans", sans-serif' font-size="9.6" font-weight="bold" textLength="5.2" lengthAdjust="spacingAndGlyphs">o</text>
<text x="616.1" y="563.3" font-family='"Liberation Sans", sans-serif' font-size="12.3" font-weight="bold" textLength="41.7" lengthAdjust="spacingAndGlyphs">38h-45</text>
<text x="658.5" y="558.70" font-family='"Liberation Sans", sans-serif' font-size="9.6" font-weight="bold" textLength="5.2" lengthAdjust="spacingAndGlyphs">o</text>
<text x="616.1" y="581.6999999999999" font-family='"Liberation Sans", sans-serif' font-size="12.3" font-weight="bold" textLength="41.7" lengthAdjust="spacingAndGlyphs">38h-60</text>
<text x="658.5" y="577.10" font-family='"Liberation Sans", sans-serif' font-size="9.6" font-weight="bold" textLength="5.2" lengthAdjust="spacingAndGlyphs">o</text>
<text x="616.1" y="600.4" font-family='"Liberation Sans", sans-serif' font-size="12.3" font-weight="bold" textLength="41.7" lengthAdjust="spacingAndGlyphs">86h-45</text>
<text x="658.5" y="595.80" font-family='"Liberation Sans", sans-serif' font-size="9.6" font-weight="bold" textLength="5.2" lengthAdjust="spacingAndGlyphs">o</text>
<text x="616.1" y="619.0" font-family='"Liberation Sans", sans-serif' font-size="12.3" font-weight="bold" textLength="41.7" lengthAdjust="spacingAndGlyphs">86h-60</text>
<text x="658.5" y="614.40" font-family='"Liberation Sans", sans-serif' font-size="9.6" font-weight="bold" textLength="5.2" lengthAdjust="spacingAndGlyphs">o</text>
</g>
</svg>
</body></html>
